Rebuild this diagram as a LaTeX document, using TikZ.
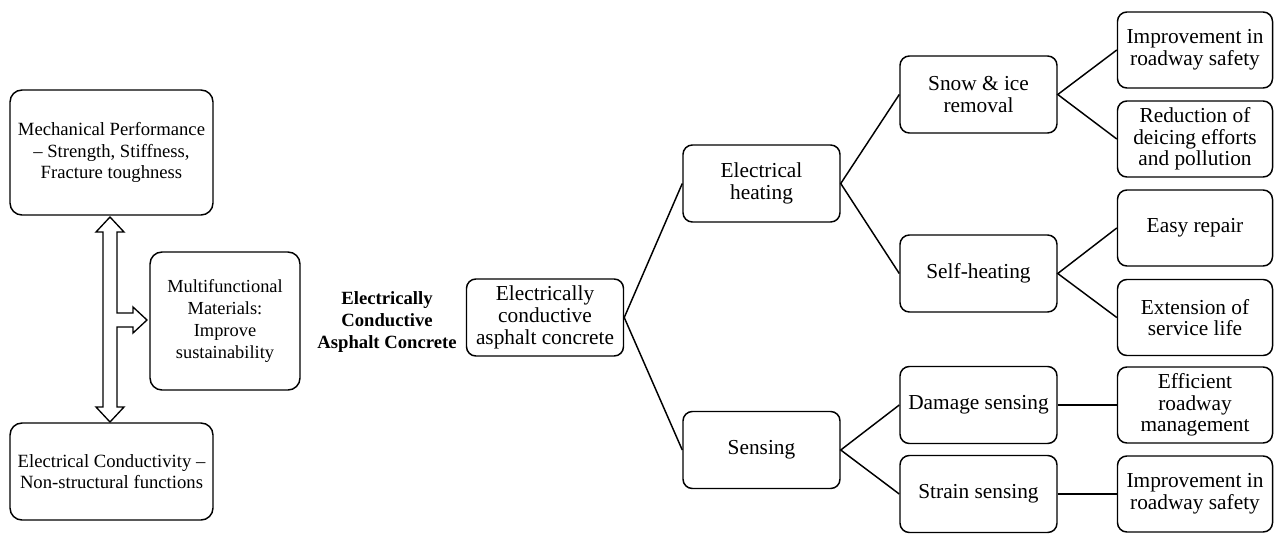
\documentclass[tikz,border=0pt]{standalone}
\usepackage{fontspec}
\setmainfont{Liberation Serif}
\begin{document}
\begin{tikzpicture}[x=0.75pt,y=-0.75pt,
  box/.style={draw, line width=1.1pt, rounded corners=7pt, align=center, inner sep=0pt},
  lbox/.style={box, rounded corners=9pt, font=\fontsize{14}{16.3}\selectfont},
  rbox/.style={box, font=\fontsize{16}{16.3}\selectfont, minimum width=117.75pt, minimum height=57.75pt},
  obox/.style={box, font=\fontsize{16}{16.3}\selectfont, minimum width=116.25pt, minimum height=57pt},
  conn/.style={line width=1.1pt},
  dblarrow/.style={draw, fill=white, line width=1pt, line join=miter}]
\useasboundingbox (0,0) rectangle (1274,533);
% left column
\node[lbox, minimum width=152.25pt, minimum height=93.75pt] (mech) at (111.5,152.5)
  {Mechanical Performance\\– Strength, Stiffness,\\Fracture toughness};
\node[lbox, minimum width=152.25pt, minimum height=72.75pt] (elec) at (111.5,471.5)
  {Electrical Conductivity –\\Non-structural functions};
\node[lbox, font=\fontsize{13.8}{16.5}\selectfont, minimum width=112.5pt, minimum height=103.5pt] (multi) at (225,321)
  {Multifunctional\\Materials:\\Improve\\sustainability};
% block arrow
\draw[dblarrow] (110,217) -- (124,232) -- (117,232) -- (117,313) -- (133,313) -- (133,307)
  -- (147,320) -- (133,333) -- (133,327) -- (117,327) -- (117,407) -- (124,407)
  -- (110,422) -- (96,407) -- (103,407) -- (103,232) -- (96,232) -- cycle;
% title
\node[align=center, font=\fontsize{14}{16.3}\selectfont\bfseries] (title) at (387,322)
  {Electrically\\Conductive\\Asphalt Concrete};
% tree
\node[rbox] (ecac) at (545,317.5) {Electrically\\conductive\\asphalt concrete};
\node[rbox] (heat) at (761.5,183.5) {Electrical\\heating};
\node[rbox] (sens) at (761.5,450) {Sensing};
\node[rbox] (snow) at (978.5,94.5) {Snow \& ice\\removal};
\node[rbox] (self) at (978.5,273.5) {Self-heating};
\node[rbox] (dmg) at (978.5,405) {Damage sensing};
\node[rbox] (strain) at (978.5,494) {Strain sensing};
\node[obox] (imp1) at (1195,50) {Improvement in\\roadway safety};
\node[obox] (red) at (1195,139) {Reduction of\\deicing efforts\\and pollution};
\node[obox] (easy) at (1195,228) {Easy repair};
\node[obox] (ext) at (1195,317.5) {Extension of\\service life};
\node[obox] (eff) at (1195,405) {Efficient\\roadway\\management};
\node[obox] (imp2) at (1195,494) {Improvement in\\roadway safety};
\draw[conn] (heat.west) -- (ecac.east) -- (sens.west);
\draw[conn] (snow.west) -- (heat.east) -- (self.west);
\draw[conn] (imp1.west) -- (snow.east) -- (red.west);
\draw[conn] (easy.west) -- (self.east) -- (ext.west);
\draw[conn] (dmg.west) -- (sens.east) -- (strain.west);
\draw[conn] (dmg.east) -- (eff.west);
\draw[conn] (strain.east) -- (imp2.west);
\end{tikzpicture}
\end{document}
